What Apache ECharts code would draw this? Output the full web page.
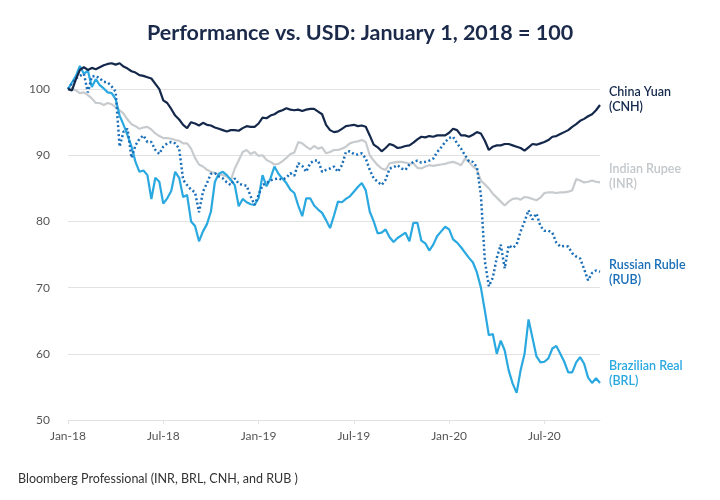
<!DOCTYPE html>
<html>
<head>
<meta charset="utf-8">
<script src="https://cdn.jsdelivr.net/npm/echarts@6/dist/echarts.min.js"></script>
<style>html,body{margin:0;padding:0;background:#fff;}#c{width:720px;height:500px;}</style>
</head>
<body>
<div id="c"></div>
<script>
// Quarter-monthly samples from Jan 1, 2018 to mid-Oct 2020 (4 samples per month)
var tickLabels = ['Jan-18', 'Jul-18', 'Jan-19', 'Jul-19', 'Jan-20', 'Jul-20'];
var yTicks = [50, 60, 70, 80, 90, 100];

var cnh = [100,99.8,101.5,102.9,103.3,102.9,103.2,103.0,103.3,103.6,
  103.8,103.9,103.7,103.9,103.4,103.1,102.7,102.5,102.1,102.0,
  101.8,101.6,100.8,100.0,98.3,97.9,97.0,96.0,95.4,94.6,
  94.1,95.0,94.8,94.5,94.9,94.6,94.5,94.2,94.0,93.8,
  93.6,93.8,93.8,93.7,94.1,94.4,94.3,94.3,94.8,95.7,
  95.6,96.0,96.2,96.6,96.8,97.1,96.9,96.8,96.9,96.7,
  96.9,97.0,97.0,96.6,96.2,94.6,93.8,93.5,93.6,94.0,
  94.4,94.5,94.6,94.4,94.5,94.3,93.0,91.6,91.2,90.6,
  91.1,91.7,91.5,91.1,91.2,91.4,91.5,91.9,92.4,92.8,
  92.7,92.9,92.8,93.0,93.0,93.0,93.4,94.0,93.8,93.0,
  93.0,92.8,93.1,93.5,93.3,92.2,90.8,91.3,91.5,91.5,
  91.7,91.7,91.5,91.3,91.1,90.7,91.2,91.7,91.6,91.8,
  92.0,92.3,92.8,92.9,93.2,93.5,93.8,94.3,94.7,95.2,
  95.5,95.9,96.2,96.8,97.6];

var inr = [100,100.1,99.8,99.4,99.5,99.1,98.6,97.9,97.9,97.6,
  97.9,97.7,97.3,96.8,96.3,95.4,94.7,94.4,94.0,94.2,
  94.3,93.9,93.3,92.9,92.6,92.6,92.5,92.3,92.2,91.8,
  91.8,91.0,89.6,88.6,88.3,87.8,87.5,87.3,87.1,87.0,
  86.8,86.2,88.0,89.2,90.5,90.8,90.2,90.5,89.9,90.0,
  89.3,89.0,88.6,88.7,89.1,89.6,90.2,90.4,92.0,91.8,
  91.3,90.9,91.4,91.0,91.2,90.3,90.5,90.8,90.8,91.0,
  91.3,91.8,92.0,92.1,92.3,92.0,90.0,89.2,88.5,88.0,
  87.8,88.8,88.9,89.0,89.0,88.9,88.7,88.8,88.1,88.0,
  88.3,88.5,88.4,88.5,88.6,88.7,88.9,89.0,88.8,88.5,
  89.5,89.0,88.3,87.8,86.2,85.6,85.0,84.2,83.6,83.0,
  82.4,83.0,83.4,83.5,83.3,83.7,83.6,83.4,83.2,83.6,
  84.3,84.4,84.4,84.3,84.4,84.4,84.5,84.7,86.4,86.2,
  85.9,86.0,86.2,86.0,85.9];

var rub = [100,100.9,101.6,102.0,102.3,99.5,101.9,102.0,101.6,101.1,
  101.0,100.4,99.6,91.3,93.6,94.0,89.6,91.5,92.5,93.0,
  92.0,92.0,90.8,90.2,91.3,91.8,92.0,91.8,91.0,86.3,
  85.5,84.8,84.4,81.4,84.5,85.8,87.2,87.3,86.8,86.5,
  85.9,85.5,86.5,85.7,85.5,85.4,83.8,82.5,84.0,85.5,
  85.8,86.2,86.4,86.5,86.3,86.6,87.3,86.9,88.8,88.4,
  87.5,88.8,89.2,89.2,87.5,87.8,88.0,88.3,87.5,88.5,
  90.5,90.6,90.2,90.1,90.3,89.5,87.8,86.5,86.0,85.5,
  86.3,88.0,88.2,88.5,88.0,87.8,88.6,89.0,89.2,88.9,
  89.0,89.2,89.5,90.5,91.2,92.0,92.6,92.8,91.8,91.0,
  90.0,89.1,89.0,88.2,84.0,74.0,70.2,71.5,74.5,76.5,
  72.9,76.4,76.0,76.5,78.5,80.0,81.7,80.3,81.2,79.3,
  78.6,78.6,78.3,76.8,76.2,76.3,76.2,75.2,74.7,74.4,
  72.8,71.1,72.2,72.6,72.4];

var brl = [100,101.0,102.0,103.5,102.3,102.8,100.3,101.5,100.6,100.1,
  99.5,99.4,98.5,96.0,94.6,93.0,91.3,89.0,87.5,87.7,
  87.0,83.4,86.6,86.0,82.7,83.5,84.6,87.5,86.6,83.7,
  84.0,80.0,79.3,77.0,78.5,79.6,81.5,86.0,87.2,87.5,
  87.0,86.3,85.5,82.3,83.4,82.9,82.6,82.5,83.5,87.0,
  85.3,86.5,88.3,87.2,86.5,85.8,84.8,84.3,82.4,80.8,
  83.5,83.5,82.4,81.8,81.3,80.2,79.0,80.9,83.0,82.9,
  83.4,83.8,84.5,85.2,85.8,84.7,81.5,80.0,78.2,78.3,
  78.8,77.6,76.9,77.5,77.9,78.3,77.0,79.8,79.8,77.1,
  76.7,75.6,76.5,77.8,78.5,79.2,78.8,77.3,76.8,76.1,
  75.3,74.5,73.8,72.3,70.0,66.5,62.8,63.0,60.0,62.0,
  60.5,57.5,55.5,54.1,57.5,60.0,65.2,62.4,59.6,58.7,
  58.8,59.3,60.8,61.2,60.0,58.8,57.2,57.2,58.7,59.5,
  58.5,56.4,55.6,56.3,55.6];

var seriesNames = ['China Yuan (CNH)', 'Indian Rupee (INR)', 'Russian Ruble (RUB)', 'Brazilian Real (BRL)'];

var categories = [];
for (var i = 0; i < cnh.length; i++) {
  var y = 2018 + Math.floor(i / 48);
  var mo = Math.floor((i % 48) / 4) + 1;
  categories.push(y + '-' + (mo < 10 ? '0' : '') + mo + ' w' + (i % 4 + 1));
}

var FONT = 'Lato, "Open Sans", sans-serif';
var chart = echarts.init(document.getElementById('c'), null, {renderer: 'canvas'});

function labelIdx(idx) { return idx % 24 === 0; }

chart.setOption({
  animation: false,
  backgroundColor: '#ffffff',
  title: {
    text: 'Performance vs. USD: January 1, 2018 = 100',
    left: 'center',
    top: 17,
    textStyle: {fontFamily: FONT, fontSize: 21.5, fontWeight: 'bold', color: '#1b2a4a'}
  },
  grid: {left: 68, right: 120, top: 56, bottom: 80},
  xAxis: {
    type: 'category',
    data: categories,
    boundaryGap: false,
    axisLine: {show: true, lineStyle: {color: '#e2e2e2', width: 1}},
    axisTick: {show: true, interval: function (i) { return labelIdx(i); }, length: 4, lineStyle: {color: '#e2e2e2'}},
    axisLabel: {
      interval: function (i) { return labelIdx(i); },
      formatter: function (v, i) { return tickLabels[i / 24] || ''; },
      fontFamily: FONT, fontSize: 12, color: '#555', margin: 10
    },
    splitLine: {show: false}
  },
  yAxis: {
    type: 'value',
    min: 50, max: 105, interval: 10,
    axisLine: {show: false},
    axisTick: {show: false},
    axisLabel: {
      showMaxLabel: false,
      formatter: function (v) { return yTicks.indexOf(v) >= 0 ? String(v) : ''; },
      fontFamily: FONT, fontSize: 12, color: '#555', margin: 18
    },
    splitLine: {show: true, showMaxLine: false, lineStyle: {color: '#e2e2e2', width: 1}}
  },
  graphic: [
    {type: 'text', left: 609, top: 84, style: {text: 'China Yuan\n(CNH)', fill: '#14284b', font: '600 12.5px ' + FONT, lineHeight: 15}},
    {type: 'text', left: 609, top: 161, style: {text: 'Indian Rupee\n(INR)', fill: '#c3c7ca', font: '600 12.5px ' + FONT, lineHeight: 15}},
    {type: 'text', left: 609, top: 257, style: {text: 'Russian Ruble\n(RUB)', fill: '#1b6fb8', font: '600 12.5px ' + FONT, lineHeight: 15}},
    {type: 'text', left: 609, top: 358, style: {text: 'Brazilian Real\n(BRL)', fill: '#2aa8e0', font: '600 12.5px ' + FONT, lineHeight: 15}},
    {type: 'text', left: 18, top: 472, style: {text: 'Bloomberg Professional (INR, BRL, CNH, and RUB )', fill: '#333', font: '12.5px ' + FONT}}
  ],
  series: [
    {name: seriesNames[1], type: 'line', data: inr, symbol: 'none', z: 2,
      lineStyle: {color: '#c8cbce', width: 2.2}},
    {name: seriesNames[3], type: 'line', data: brl, symbol: 'none', z: 3,
      lineStyle: {color: '#2aa8e0', width: 2.2}},
    {name: seriesNames[2], type: 'line', data: rub, symbol: 'none', z: 4,
      lineStyle: {color: '#1b6fb8', width: 2.5, type: [2, 2.5]}},
    {name: seriesNames[0], type: 'line', data: cnh, symbol: 'none', z: 5,
      lineStyle: {color: '#14284b', width: 2.2}}
  ]
});
</script>
</body>
</html>
